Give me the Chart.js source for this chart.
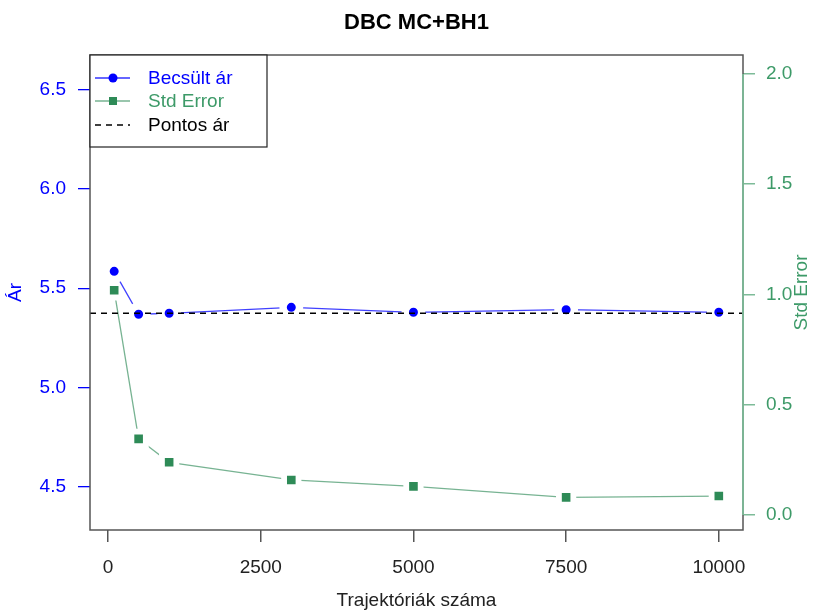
<!DOCTYPE html>
<html>
<head>
<meta charset="utf-8">
<script src="https://cdn.jsdelivr.net/npm/chart.js@4.4.1/dist/chart.umd.min.js"></script>
<style>
  body { margin: 0; background: #fff; }
  #wrap { width: 815px; height: 614px; }
</style>
</head>
<body>
<div id="wrap"><canvas id="chart" width="815" height="614"></canvas></div>
<script>
// ------------------------------
// Data
// ------------------------------
const trajectories = [100, 500, 1000, 3000, 5000, 7500, 10000];
const estPrice = [5.585, 5.369, 5.374, 5.404, 5.379, 5.392, 5.379];   // Becsült ár
const stdError = [1.019, 0.345, 0.239, 0.159, 0.130, 0.080, 0.086];   // Std Error
const exactPrice = 5.374;                                             // Pontos ár

const xTicks = [0, 2500, 5000, 7500, 10000];
const xTickLabels = ["0", "2500", "5000", "7500", "10000"];
const leftTicks = [4.5, 5.0, 5.5, 6.0, 6.5];
const leftTickLabels = ["4.5", "5.0", "5.5", "6.0", "6.5"];
const rightTicks = [0, 0.5, 1.0, 1.5, 2.0];
const rightTickLabels = ["0.0", "0.5", "1.0", "1.5", "2.0"];

const legendLabels = ["Becsült ár", "Std Error", "Pontos ár"];

// axis limits (R style, range plus a little)
const xMin = -296, xMax = 10396;
const yMin = 4.284, yMax = 6.673;
const y1Min = -0.068, y1Max = 2.086;

const FONT = "'Liberation Sans', Arial, sans-serif";
const BLUE = "#0000ff";
const GREEN = "#2e8b57";
const GREEN_SOFT = "rgba(46,139,87,0.65)";
const GREEN_AXIS = "#7dbb98";
const BOX = "#555555";

// ------------------------------
// Extra drawing: box, titles, legend
// ------------------------------
const decorPlugin = {
    id: "decor",
    afterDraw(chart) {
        const c = chart.ctx;
        const a = chart.chartArea;
        const y1 = chart.scales.y1;

        c.save();
        // plot box
        c.strokeStyle = BOX;
        c.lineWidth = 1.5;
        c.strokeRect(a.left, a.top, a.right - a.left, a.bottom - a.top);

        // right axis line (green, from 0 to 2)
        c.strokeStyle = GREEN_AXIS;
        c.lineWidth = 1.8;
        c.beginPath();
        c.moveTo(a.right, y1.getPixelForValue(rightTicks[0]));
        c.lineTo(a.right, y1.getPixelForValue(rightTicks[rightTicks.length - 1]));
        c.stroke();

        // title
        const midX = (a.left + a.right) / 2;
        c.fillStyle = "#000";
        c.textAlign = "center";
        c.textBaseline = "middle";
        c.font = "bold 22px " + FONT;
        c.fillText("DBC MC+BH1", midX, 23);

        // axis titles
        c.font = "19px " + FONT;
        c.fillStyle = "#222";
        c.fillText("Trajektóriák száma", midX, 601);

        c.save();
        c.translate(16, (a.top + a.bottom) / 2);
        c.rotate(-Math.PI / 2);
        c.fillStyle = BLUE;
        c.fillText("Ár", 0, 0);
        c.restore();

        c.save();
        c.translate(802, (a.top + a.bottom) / 2);
        c.rotate(-Math.PI / 2);
        c.fillStyle = "#3d9a68";
        c.fillText("Std Error", 0, 0);
        c.restore();

        // legend
        const lx = a.left, ly = a.top, lw = 177, lh = 92;
        c.fillStyle = "#fff";
        c.fillRect(lx, ly, lw, lh);
        c.strokeStyle = "#222";
        c.lineWidth = 1.2;
        c.strokeRect(lx, ly, lw, lh);

        const rows = [78, 101, 125];
        const colors = [BLUE, GREEN, "#000"];
        const textColors = [BLUE, "#3d9a68", "#000"];
        rows.forEach((ry, i) => {
            c.beginPath();
            c.lineWidth = i === 2 ? 1.5 : 1.3;
            c.strokeStyle = i === 0 ? "rgba(0,0,255,0.8)" : i === 1 ? GREEN_SOFT : "#000";
            c.setLineDash(i === 2 ? [6, 5] : []);
            c.moveTo(lx + 5, ry);
            c.lineTo(lx + 40, ry);
            c.stroke();
            c.setLineDash([]);
            c.fillStyle = colors[i];
            if (i === 0) {
                c.beginPath();
                c.arc(lx + 23, ry, 4.5, 0, Math.PI * 2);
                c.fill();
            } else if (i === 1) {
                c.fillRect(lx + 19, ry - 4, 8, 8);
            }
            c.fillStyle = textColors[i];
            c.textAlign = "left";
            c.textBaseline = "middle";
            c.font = "19px " + FONT;
            c.fillText(legendLabels[i], lx + 58, ry + 1);
        });
        c.restore();
    }
};

// ------------------------------
// Chart.js
// ------------------------------
const ctx = document.getElementById("chart");

new Chart(ctx, {
    type: "scatter",
    data: {
        datasets: [
            {
                label: legendLabels[2],
                data: [{ x: xMin, y: exactPrice }, { x: xMax, y: exactPrice }],
                yAxisID: "y",
                showLine: true,
                borderColor: "#000",
                borderWidth: 1.5,
                borderDash: [6, 5],
                pointRadius: 0,
                order: 0
            },
            {
                label: legendLabels[0],
                data: trajectories.map((t, i) => ({ x: t, y: estPrice[i] })),
                yAxisID: "y",
                showLine: true,
                borderColor: "rgba(0,0,255,0.75)",
                borderWidth: 1.3,
                pointStyle: "circle",
                pointRadius: 8.2,
                pointBackgroundColor: BLUE,
                pointBorderColor: "#fff",
                pointBorderWidth: 7.4,
                order: 1
            },
            {
                label: legendLabels[1],
                data: trajectories.map((t, i) => ({ x: t, y: stdError[i] })),
                yAxisID: "y1",
                showLine: true,
                borderColor: GREEN_SOFT,
                borderWidth: 1.3,
                pointStyle: "rect",
                pointRadius: 10.2,
                pointBackgroundColor: GREEN,
                pointBorderColor: "#fff",
                pointBorderWidth: 5.8,
                order: 2
            }
        ]
    },
    options: {
        responsive: false,
        animation: false,
        layout: { padding: { top: 55, left: 0, right: 0, bottom: 0 } },
        plugins: {
            legend: { display: false },
            title: { display: false },
            tooltip: { enabled: false }
        },
        scales: {
            x: {
                type: "linear",
                min: xMin,
                max: xMax,
                afterBuildTicks: s => { s.ticks = xTicks.map(v => ({ value: v })); },
                afterFit: s => { s.height = 84; },
                border: { display: false },
                grid: { drawOnChartArea: false, drawTicks: true, tickLength: 12, tickColor: BOX, lineWidth: 1.5 },
                ticks: {
                    color: "#222", padding: 14, maxRotation: 0,
                    font: { family: FONT, size: 19 },
                    callback: (v, i) => xTickLabels[i]
                }
            },
            y: {
                type: "linear",
                position: "left",
                min: yMin,
                max: yMax,
                afterBuildTicks: s => { s.ticks = leftTicks.map(v => ({ value: v })); },
                afterFit: s => { s.width = 90; },
                border: { display: false },
                grid: { drawOnChartArea: false, drawTicks: true, tickLength: 12, tickColor: BLUE, lineWidth: 1.3 },
                ticks: {
                    color: BLUE, padding: 12,
                    font: { family: FONT, size: 19 },
                    callback: (v, i) => leftTickLabels[i]
                }
            },
            y1: {
                type: "linear",
                position: "right",
                min: y1Min,
                max: y1Max,
                afterBuildTicks: s => { s.ticks = rightTicks.map(v => ({ value: v })); },
                afterFit: s => { s.width = 72; },
                border: { display: false },
                grid: { drawOnChartArea: false, drawTicks: true, tickLength: 12, tickColor: GREEN_AXIS, lineWidth: 1.5 },
                ticks: {
                    color: "#3d9a68", padding: 11,
                    font: { family: FONT, size: 19 },
                    callback: (v, i) => rightTickLabels[i]
                }
            }
        }
    },
    plugins: [decorPlugin]
});
</script>
</body>
</html>
